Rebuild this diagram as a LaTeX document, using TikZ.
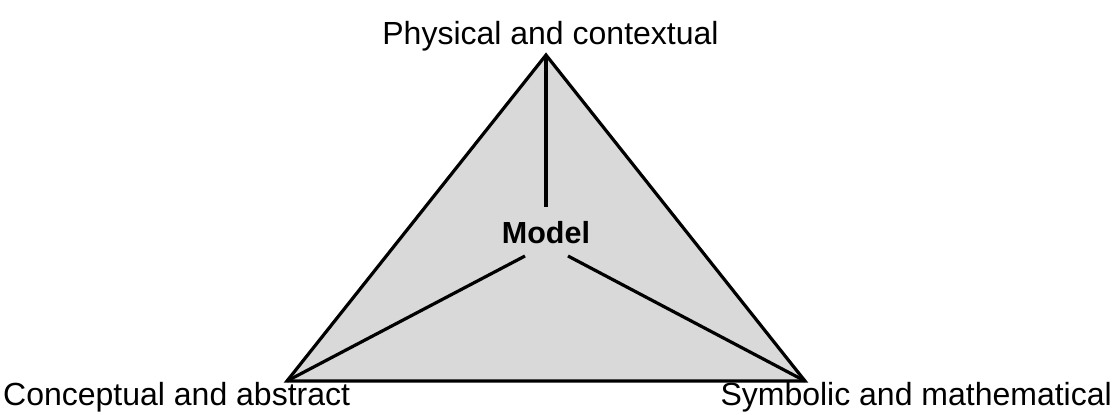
\documentclass[tikz,border=0pt]{standalone}
\usepackage{fontspec}
\setmainfont{Liberation Sans}
\tikzset{
  edge/.style={line width=3.2pt, black},
  lbl/.style={inner sep=0pt, font=\fontsize{32}{38}\selectfont},
  tri/.style={line width=3.2pt, fill={rgb,255:red,217;green,217;blue,217}, line join=miter},
}
\begin{document}
\begin{tikzpicture}[x=1pt,y=-1pt]
\useasboundingbox (0,0) rectangle (1120,415);
\coordinate (A) at (546,55);
\coordinate (B) at (287,381);
\coordinate (C) at (805,381);
\draw[tri] (A) -- (B) -- (C) -- cycle;
\coordinate (mt) at (546,207);
\coordinate (ml) at (525,256);
\coordinate (mr) at (568,256);
\draw[edge] (A) -- (mt);
\draw[edge] (B) -- (ml);
\draw[edge] (C) -- (mr);
\node[inner sep=0pt, anchor=base, font=\fontsize{30.5}{36}\selectfont\bfseries] (model) at (546,243) {Model};
\node[lbl, anchor=base] (phys) at (550.5,44) {Physical and contextual};
\node[lbl, anchor=base west] (conc) at (3,405) {Conceptual and abstract};
\node[lbl, anchor=base east] (symb) at (1112,405) {Symbolic and mathematical};
\end{tikzpicture}
\end{document}
